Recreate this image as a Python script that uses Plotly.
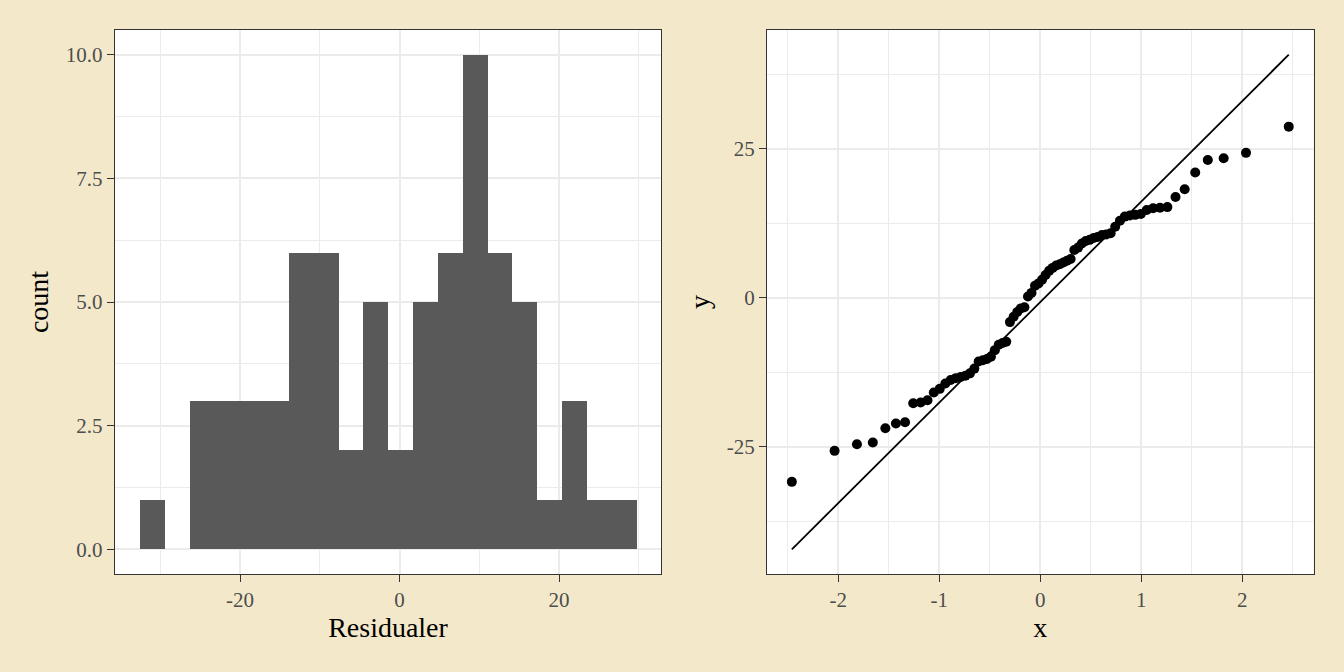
import math
import numpy as np
import plotly.graph_objects as go

# residuals (sorted), 72 values
residuals = [
    -30.9, -25.7, -24.6, -24.3, -21.9, -21.1, -20.9, -17.7, -17.6, -17.2,
    -15.9, -15.3, -14.4, -13.8, -13.5, -13.3, -13.1, -12.7, -11.9, -10.7,
    -10.5, -10.3, -9.9, -8.8, -7.9, -7.6, -7.4, -4.1, -3.2, -2.4,
    -1.8, -1.6, 0.2, 0.8, 2.0, 2.4, 3.0, 3.8, 4.5, 5.0,
    5.4, 5.6, 5.9, 6.2, 6.5, 8.0, 8.4, 9.1, 9.5, 9.7,
    10.0, 10.2, 10.5, 10.6, 10.8, 11.9, 12.9, 13.6, 13.8, 13.9,
    14.05, 14.7, 15.0, 15.1, 15.2, 16.9, 18.2, 21.0, 23.1, 23.4,
    24.3, 28.7,
]

# histogram bins (20 bins)
bin_start = -32.6
bin_size = 3.115
n_bins = 20

hist_xticks = [-20, 0, 20]
count_ticks = [0, 2.5, 5, 7.5, 10]
count_labels = ["0.0", "2.5", "5.0", "7.5", "10.0"]
qq_xticks = [-2, -1, 0, 1, 2]
qq_yticks = [-25, 0, 25]

BG = "#F3E9CA"
FONT = "Liberation Serif"


def qnorm(p):
    lo, hi = -10.0, 10.0
    for _ in range(80):
        mid = (lo + hi) / 2
        if 0.5 * (1 + math.erf(mid / math.sqrt(2))) < p:
            lo = mid
        else:
            hi = mid
    return (lo + hi) / 2


n = len(residuals)
sample = np.sort(np.array(residuals))
theo = np.array([qnorm((i + 0.5) / n) for i in range(n)])

# qq line through the quartiles (like geom_qq_line)
q1y, q3y = np.quantile(sample, [0.25, 0.75])
q1x, q3x = qnorm(0.25), qnorm(0.75)
slope = (q3y - q1y) / (q3x - q1x)
intercept = q1y - slope * q1x
line_x = [theo.min(), theo.max()]
line_y = [intercept + slope * v for v in line_x]


def expand(lo, hi, f=0.05):
    d = (hi - lo) * f
    return [lo - d, hi + d]


fig = go.Figure()

fig.add_trace(go.Histogram(
    x=residuals,
    xbins=dict(start=bin_start, end=bin_start + n_bins * bin_size, size=bin_size),
    marker=dict(color="#595959", line=dict(width=0)),
    xaxis="x", yaxis="y",
    showlegend=False,
))

fig.add_trace(go.Scatter(
    x=line_x, y=line_y, mode="lines",
    line=dict(color="black", width=1.8),
    xaxis="x2", yaxis="y2", showlegend=False,
))

fig.add_trace(go.Scatter(
    x=theo, y=sample, mode="markers",
    marker=dict(color="black", size=10),
    xaxis="x2", yaxis="y2", showlegend=False,
))

axis_style = dict(
    showline=True, mirror=True, linecolor="#333333", linewidth=1.3,
    ticks="outside", ticklen=7, tickwidth=1.3, tickcolor="#333333",
    zeroline=False, showgrid=True, gridcolor="#EBEBEB", gridwidth=1.5,
    tickfont=dict(family=FONT, size=21, color="#4D4D4D"),
)
title_font = dict(family=FONT, size=28, color="black")

hist_xrange = expand(bin_start, bin_start + n_bins * bin_size)
qq_xrange = expand(theo.min(), theo.max())
qq_yrange = expand(min(sample.min(), min(line_y)), max(sample.max(), max(line_y)))

fig.update_layout(
    width=1344, height=672,
    margin=dict(l=0, r=0, t=0, b=0),
    paper_bgcolor=BG, plot_bgcolor="white",
    bargap=0,
    xaxis=dict(
        domain=[114.8 / 1344, 661.2 / 1344], range=hist_xrange,
        tickvals=hist_xticks, ticktext=[str(v) for v in hist_xticks],
        minor=dict(showgrid=True, gridcolor="#EBEBEB", gridwidth=0.8, tick0=-30, dtick=20),
        title=dict(text="Residualer", font=title_font, standoff=4),
        anchor="y", **axis_style,
    ),
    yaxis=dict(
        domain=[98 / 672, 642 / 672], range=[-0.5, 10.5],
        tickvals=count_ticks, ticktext=count_labels,
        minor=dict(showgrid=True, gridcolor="#EBEBEB", gridwidth=0.8, tick0=1.25, dtick=2.5),
        title=dict(text="count", font=title_font, standoff=8),
        anchor="x", **axis_style,
    ),
    xaxis2=dict(
        domain=[767 / 1344, 1313.6 / 1344], range=qq_xrange,
        tickvals=qq_xticks, ticktext=[str(v) for v in qq_xticks],
        minor=dict(showgrid=True, gridcolor="#EBEBEB", gridwidth=0.8, tick0=-2.5, dtick=1),
        title=dict(text="x", font=title_font, standoff=4),
        anchor="y2", **axis_style,
    ),
    yaxis2=dict(
        domain=[98 / 672, 642 / 672], range=qq_yrange,
        tickvals=qq_yticks, ticktext=[str(v) for v in qq_yticks],
        minor=dict(showgrid=True, gridcolor="#EBEBEB", gridwidth=0.8, tick0=-37.5, dtick=25),
        title=dict(text="y", font=title_font, standoff=8),
        anchor="x2", **axis_style,
    ),
)

# remove the page's default body margin so the figure fills the window
fig.write_html(
    "out.html",
    config={"displayModeBar": False},
    post_script="document.body.style.margin='0';",
)
